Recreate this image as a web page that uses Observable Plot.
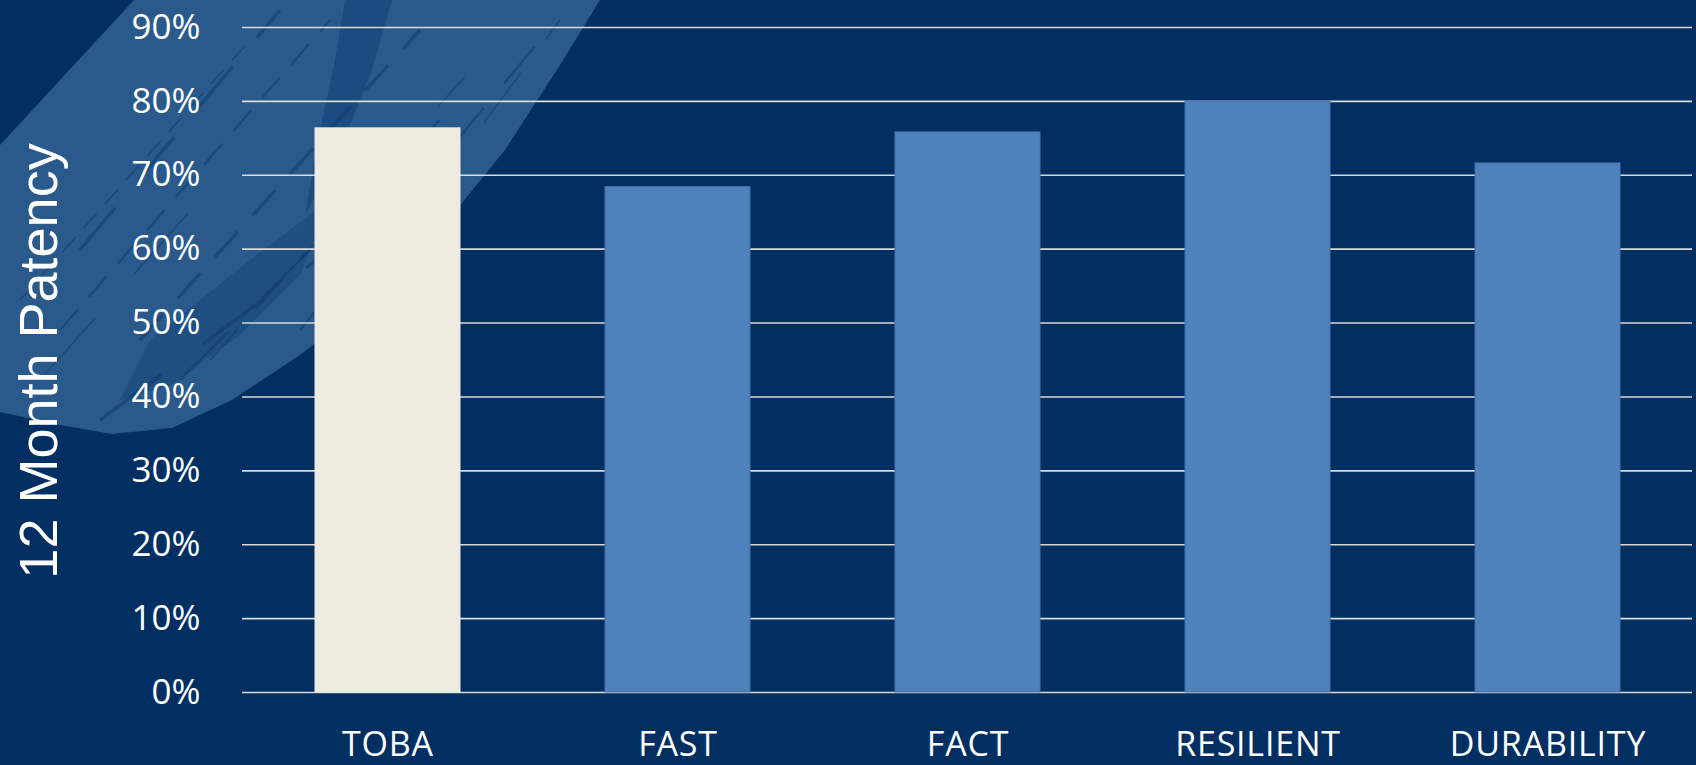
<!DOCTYPE html>
<html>
<head>
<meta charset="utf-8">
<script src="https://cdn.jsdelivr.net/npm/d3@7"></script>
<script src="https://cdn.jsdelivr.net/npm/@observablehq/plot@0.6"></script>
<style>
  html, body { margin: 0; padding: 0; background: #012f62; }
  #wrap { position: relative; width: 1696px; height: 765px; overflow: hidden; background: #012f62; }
  #brush { position: absolute; left: 0; top: 0; }
  #chart { position: absolute; left: 0; top: 0; }
  #chart svg g[aria-label="x-axis tick label"] text { letter-spacing: 0.8px; }
  #ytitle {
    position: absolute; left: 38px; top: 361px;
    transform: translate(-50%, -50%) rotate(-90deg);
    font-family: "Liberation Sans", Arial, sans-serif; font-size: 54px; line-height: 1;
    color: #ffffff; white-space: nowrap;
  }
</style>
</head>
<body>
<div id="wrap">
  <svg id="brush" width="1696" height="765"></svg>
  <div id="chart"></div>
  <div id="ytitle"></div>
</div>
<script>
// ---- Data ----
const categories = ["TOBA", "FAST", "FACT", "RESILIENT", "DURABILITY"];
const patency = [0.7635, 0.684, 0.758, 0.80, 0.716];
const barColors = ["#eeebe0", "#4f81bd", "#4f81bd", "#4f81bd", "#4f81bd"];
const yTicks = [0, 0.1, 0.2, 0.3, 0.4, 0.5, 0.6, 0.7, 0.8, 0.9];
const yTitle = "12 Month Patency";

const data = categories.map((c, i) => ({category: c, value: patency[i], color: barColors[i]}));

// ---- Decorative brush stroke in background ----
const brush = d3.select("#brush");
brush.append("path")
  .attr("d", "M0,145 L134,0 L600,0 L562,62 L505,150 L440,230 L370,300 L300,355 L232,400 L172,428 L112,434 L60,425 L0,412 Z")
  .attr("fill", "#2a5a8c");
// subtle darker gap between the two brush strokes near the top
brush.append("path")
  .attr("d", "M345,0 L392,0 L372,70 L340,150 L305,215 L318,140 L335,60 Z")
  .attr("fill", "#0b3a6e").attr("opacity", 0.45);
// darker textured area inside the lower curl
brush.append("path")
  .attr("d", "M150,340 L250,260 L330,200 L300,275 L240,335 L170,385 L120,400 Z")
  .attr("fill", "#0b3a6e").attr("opacity", 0.35);
const streaks = [
  [[20,300],[250,40]], [[60,330],[330,20]], [[140,340],[420,30]], [[210,360],[480,60]],
  [[300,330],[540,40]], [[80,250],[280,10]], [[360,290],[560,20]], [[180,380],[440,120]],
  [[100,420],[330,250]], [[40,380],[200,200]]
];
streaks.forEach(([a, b], i) => {
  brush.append("line")
    .attr("x1", a[0]).attr("y1", a[1]).attr("x2", b[0]).attr("y2", b[1])
    .attr("stroke", "#0d3a6c").attr("stroke-width", 1.5 + (i % 3))
    .attr("stroke-dasharray", `${20 + i * 7},${12 + i * 5}`)
    .attr("opacity", 0.5);
});

// ---- Chart ----
const chart = Plot.plot({
  width: 1696,
  height: 765,
  marginLeft: 242,
  marginRight: 4,
  marginTop: 27,
  marginBottom: 73,
  style: {background: "transparent", color: "#ffffff", fontFamily: "'Open Sans', sans-serif"},
  x: {domain: categories, paddingInner: 0.5, paddingOuter: 0.25, label: null},
  y: {domain: [0, 0.9], label: null},
  marks: [
    Plot.ruleY(yTicks, {stroke: "#d9d9d9", strokeWidth: 1.6}),
    Plot.barY(data, {x: "category", y: "value", fill: "color", stroke: d => d.category === "TOBA" ? "#eeebe0" : "#4673a8", strokeWidth: 1}),
    Plot.axisY({ticks: yTicks, tickFormat: d => Math.round(d * 100) + "%", tickSize: 0, tickPadding: 42, fontSize: 35, fill: "#ffffff", label: null}),
    Plot.axisX({tickSize: 0, tickPadding: 39, fontSize: 34, fill: "#ffffff", label: null})
  ]
});
document.getElementById("chart").appendChild(chart);
document.getElementById("ytitle").textContent = yTitle;
</script>
</body>
</html>
